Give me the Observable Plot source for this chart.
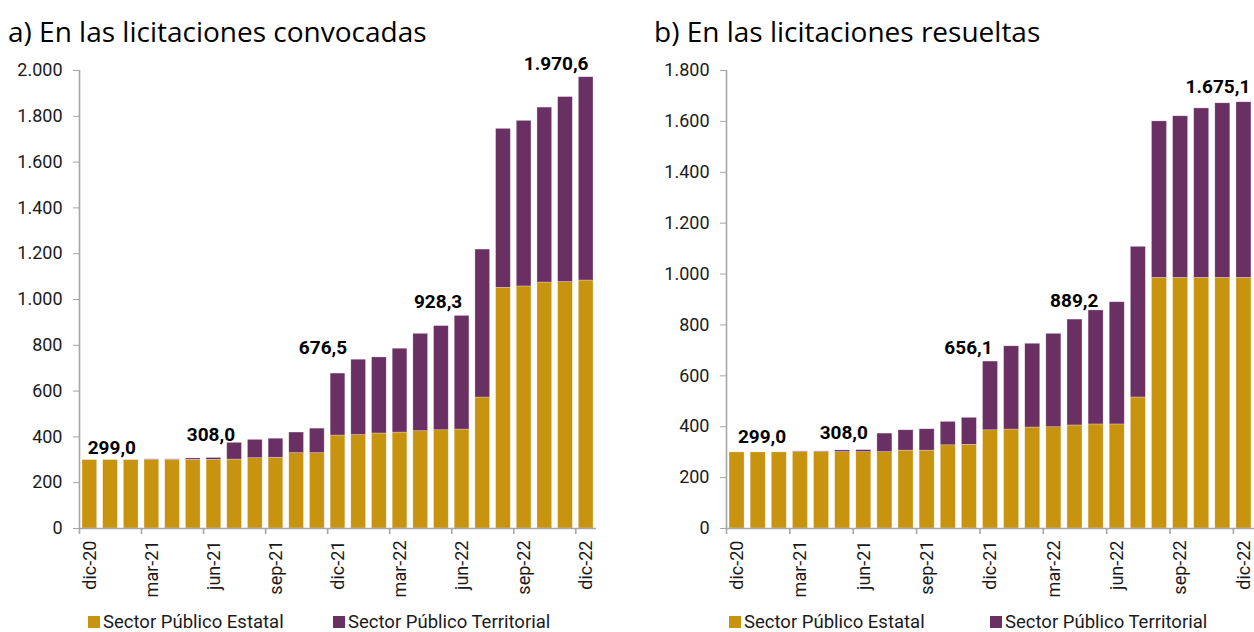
<!DOCTYPE html>
<html><head><meta charset="utf-8">
<script src="https://cdn.jsdelivr.net/npm/d3@7"></script>
<script src="https://cdn.jsdelivr.net/npm/@observablehq/plot@0.6"></script>
<style>
body{margin:0;background:#fff;}
#wrap{position:relative;width:1254px;height:632px;overflow:hidden;font-family:Roboto,sans-serif;background:#fff;}
.title{position:absolute;top:12px;font-family:"Open Sans",sans-serif;font-size:28px;line-height:normal;color:#000;white-space:nowrap;}
.panel{position:absolute;top:50px;}
.leg{position:absolute;top:613px;height:18px;line-height:18px;font-family:Roboto,sans-serif;font-size:18.5px;color:#1a1a1a;white-space:nowrap;display:flex;align-items:center;}
.sw{display:inline-block;width:12px;height:12px;margin-right:3px;}
</style></head>
<body><div id="wrap"></div>
<script>
// ---- data ----
const months = ["dic-20","ene-21","feb-21","mar-21","abr-21","may-21","jun-21","jul-21","ago-21","sep-21","oct-21","nov-21",
  "dic-21","ene-22","feb-22","mar-22","abr-22","may-22","jun-22","jul-22","ago-22","sep-22","oct-22","nov-22","dic-22"];
const tickMonths = ["dic-20","mar-21","jun-21","sep-21","dic-21","mar-22","jun-22","sep-22","dic-22"];
const seriesNames = ["Sector Público Estatal","Sector Público Territorial"];
const titles = ["a) En las licitaciones convocadas","b) En las licitaciones resueltas"];
// a) convocadas
const estatalA = [299,299,299,300,300,300,300,301,307,309,329,329,406,408,415,419,425,429,432,572,1051,1057,1074,1076,1083];
const territorialA = [0,0,0,2,2,6,8,73,80,83,90,107,270.5,329,332,366,425,455,496.3,646,694,723,764,808,887.6];
// b) resueltas
const estatalB = [299,299,299,301,301,300,300,300,306,306,327,329,386,389,397,398,405,409,409,515,985,985,985,985,985];
const territorialB = [0,0,0,2,2,7,8,73,80,84,92,106,270.1,327,329,367,416,448,480.2,592,615,635,666,686,690.1];
const labelMonths = ["dic-20","jun-21","dic-21","jun-22","dic-22"];
const yMaxA = 2000, yMaxB = 1800;

// ---- styling ----
const colors = ["#C8930F","#6A3063"];
const axisGrey = "#a6a6a6";
const loc = d3.formatLocale({decimal: ",", thousands: ".", grouping: [3], currency: ["", ""]});
const fmtTick = loc.format(",.0f");
const fmtLabel = loc.format(",.1f");

function panel(est, ter, ymax, ml, mr, offsets) {
  const W = 627, H = 550, mt = 20, mb = 72;
  const step = (W - ml - mr) / months.length;
  const rows = months.flatMap((m, i) => [
    {month: m, serie: seriesNames[0], value: est[i]},
    {month: m, serie: seriesNames[1], value: ter[i]}
  ]);
  const totals = months.map((m, i) => ({month: m, total: est[i] + ter[i]}));
  const labels = labelMonths.map((m, k) => {
    const d = totals.find(t => t.month === m);
    return Plot.text([d], {x: "month", y: "total", text: t => fmtLabel(t.total),
      dx: offsets[k][0], dy: offsets[k][1], lineAnchor: "bottom", textAnchor: "middle",
      fontWeight: "bold", fontSize: 19, fill: "#000"});
  });
  return Plot.plot({
    width: W, height: H, marginTop: mt, marginBottom: mb, marginLeft: ml, marginRight: mr,
    style: {fontFamily: "Roboto, sans-serif", fontSize: "18px", background: "transparent", overflow: "visible"},
    x: {type: "band", domain: months, paddingInner: 0.29, paddingOuter: 0.145, round: false, label: null},
    y: {domain: [0, ymax], label: null},
    color: {domain: seriesNames, range: colors},
    marks: [
      Plot.barY(rows, {x: "month", y: "value", fill: "serie", order: seriesNames,
        stroke: "#ffffff", strokeOpacity: 0.45, strokeWidth: 0.6}),
      Plot.ruleY([0], {stroke: axisGrey, strokeWidth: 1.6}),
      Plot.ruleX([months[0]], {dx: -step / 2, y1: 0, y2: ymax, stroke: axisGrey, strokeWidth: 1.6}),
      Plot.ruleX(tickMonths, {dx: -step / 2, y1: 0, y2: 0, insetBottom: -6, stroke: axisGrey, strokeWidth: 1.6}),
      Plot.axisY({ticks: d3.range(0, ymax + 1, 200), tickFormat: fmtTick, tickSize: 6, tickPadding: 11,
        stroke: axisGrey, fill: "#1a1a1a", fontSize: 18, label: null}),
      Plot.axisX({ticks: tickMonths, tickSize: 0, tickPadding: 12, tickRotate: -90,
        fill: "#1a1a1a", fontSize: 18, label: null}),
      ...labels
    ]
  });
}

const wrap = document.getElementById("wrap");
function addDiv(cls, left, html) {
  const d = document.createElement("div");
  d.className = cls; d.style.left = left + "px"; d.innerHTML = html; wrap.appendChild(d); return d;
}
addDiv("title", 8, titles[0]);
addDiv("title", 654, titles[1]);

const pA = panel(estatalA, territorialA, yMaxA, 79, 31,
  [[22, -6], [-3, -17], [-15, -20], [-24, -8], [-30, -7]]);
const pB = panel(estatalB, territorialB, yMaxB, 99, 0,
  [[25, -9], [-20, -11], [-22, -8], [-43, 5], [-26, -9]]);
const dA = document.createElement("div"); dA.className = "panel"; dA.style.left = "0px"; dA.appendChild(pA); wrap.appendChild(dA);
const dB = document.createElement("div"); dB.className = "panel"; dB.style.left = "627px"; dB.appendChild(pB); wrap.appendChild(dB);

function legend(x1, x2) {
  addDiv("leg", x1, `<span class="sw" style="background:${colors[0]}"></span>${seriesNames[0]}`);
  addDiv("leg", x2, `<span class="sw" style="background:${colors[1]}"></span>${seriesNames[1]}`);
}
legend(88, 333);
legend(729, 990);
</script>
</body></html>
